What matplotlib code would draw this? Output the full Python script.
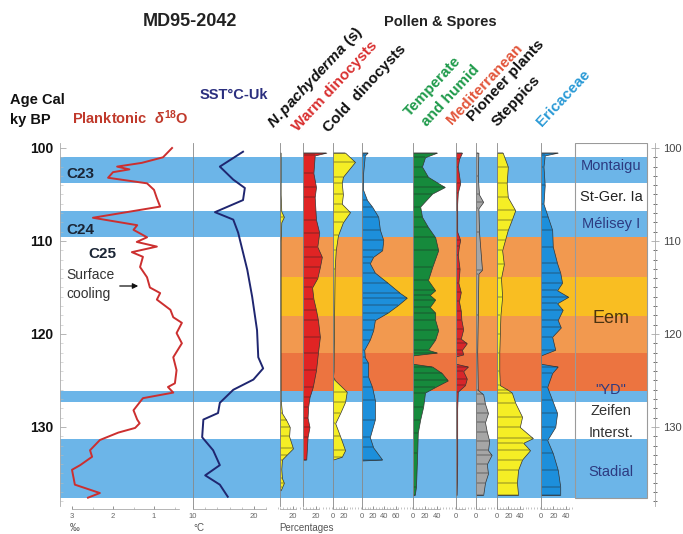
import matplotlib
matplotlib.use("Agg")
import matplotlib.pyplot as plt
from matplotlib.patches import Rectangle, FancyArrowPatch
from matplotlib.ticker import MultipleLocator, FixedLocator

plt.rcParams['font.family'] = ['Liberation Sans', 'DejaVu Sans']
plt.rcParams['mathtext.fontset'] = 'custom'
plt.rcParams['mathtext.rm'] = 'Liberation Sans:bold'
plt.rcParams['mathtext.it'] = 'Liberation Sans:italic:bold'
plt.rcParams['mathtext.bf'] = 'Liberation Sans:bold'

# ---- data (ages in ky BP) ----
d18o_age = [100, 101, 101.6, 102.0, 102.3, 102.6, 103.2, 103.8, 104.5, 105.4, 106.3, 107.5, 108.3, 108.8,
            109.6, 110.1, 110.6, 111.2, 111.7, 112.8, 113.9, 115.0, 115.6, 116.3, 117.4, 118.2, 118.8,
            119.9, 121.0, 122.5, 123.9, 125.3, 125.7, 126.3, 126.9, 128.2, 129.2, 129.6, 130.1, 130.6,
            131.4, 132.5, 133.2, 134.1, 134.6, 136.2, 137.1, 137.6]
d18o_val = [0.56, 0.78, 1.3, 1.9, 1.6, 2.0, 2.12, 1.17, 1.0, 0.93, 0.85, 2.49, 1.41, 1.5,
            1.17, 1.42, 0.93, 1.54, 1.27, 1.34, 1.17, 1.1, 0.85, 0.93, 0.6, 0.53, 0.32,
            0.45, 0.32, 0.53, 0.45, 0.49, 0.66, 0.53, 1.27, 1.5, 1.41, 1.35, 1.46, 1.87,
            2.32, 2.56, 2.51, 2.8, 3.0, 2.93, 2.32, 2.61]

sst_age = [100.4, 102.0, 103.4, 104.3, 105.6, 106.9, 107.7, 109.1, 113.1, 116.0, 119.6, 122.5, 123.7,
           124.9, 126.0, 127.4, 128.5, 129.2, 131.1, 132.5, 134.1, 135.2, 136.2, 137.5]
sst_val = [18.2, 14.4, 16.6, 18.5, 18.2, 13.6, 16.6, 17.4, 18.9, 19.7, 20.5, 20.7, 21.5,
           19.9, 16.6, 14.4, 14.1, 11.7, 11.5, 13.3, 14.4, 12.0, 14.4, 15.7]

npach_age = [100.5, 105, 106.8, 107.4, 108, 110, 120, 127, 128.5, 129.3, 130, 131, 132.3, 133, 133.5,
             134.5, 135.5, 136, 136.5, 136.8]
npach_val = [1, 1, 2, 6, 2, 1, 1, 1, 3, 10, 15, 14, 20, 10, 3, 2, 3, 6, 3, 1]

warm_age = [100.5, 100.8, 102.7, 104.2, 105.3, 107.7, 109.1, 110.6, 111.7, 112.8, 114, 115, 116.2, 117.4,
            118.5, 120.3, 122, 123.9, 125.7, 126.8, 127.8, 129, 130, 131.1, 133.5]
warm_val = [36, 18, 16, 20, 18, 20, 25, 22, 29, 26, 22, 14, 16, 20,
            23, 26, 23, 20, 15, 10, 8, 7, 10, 7, 5]

cold_age = [100.5, 101.5, 103.1, 103.8, 105, 106, 106.9, 108, 109.4, 111, 113, 118, 124, 124.6, 125,
            126.2, 127.3, 128.5, 129.6, 131, 132.5, 133.2, 133.5]
cold_val = [22, 40, 18, 16, 18, 16, 31, 18, 9, 5, 3, 2, 1, 0, 4,
            25, 22, 13, 4, 13, 22, 16, 0]

blue_age = [100.5, 100.8, 102.7, 104.5, 105.6, 106.3, 107.4, 108.8, 109.9, 111, 111.7, 112.4, 113.4,
            114.5, 115.6, 116.1, 116.9, 117.7, 118.5, 119.6, 120.6, 121.7, 122.5, 123.1, 124.6, 125.7,
            127.1, 129.2, 131.1, 132.2, 133.5, 133.6]
blue_val = [10, 5, 2, 2, 9, 18, 29, 32, 38, 36, 20, 14, 23,
            46, 68, 80, 64, 46, 23, 20, 14, 4, 5, 11, 11, 18,
            23, 23, 14, 20, 36, 0]

temp_age = [100.5, 101, 102, 103.1, 104.2, 104.9, 106.3, 107.4, 108.5, 109.6, 111, 112.8, 114.2, 115.3,
            115.8, 116.3, 117.1, 117.7, 118.5, 119.6, 120.6, 121.7, 122.0, 122.3, 123.2, 123.5, 124.2,
            125, 125.7, 126.3, 127.8, 129.2, 130.6, 132.8, 136.4, 137.3]
temp_val = [40, 20, 15, 25, 53, 32, 12, 15, 25, 37, 42, 32, 25, 37,
            28, 37, 28, 37, 37, 42, 37, 25, 40, 0, 0, 32, 48,
            58, 37, 20, 17, 12, 8, 7, 5, 3]

med_age = [100.5, 101.2, 102, 103.8, 104.8, 106, 109, 109.9, 110.5, 111.5, 113, 114.5, 115.5, 116.5,
           117.5, 118.5, 119.5, 120.5, 121, 121.7, 122.2, 122.4, 123.2, 123.5, 124, 124.8, 125.5,
           126.2, 128, 131, 134, 137.3]
med_val = [10, 5, 3, 7, 3, 2, 2, 7, 5, 3, 6, 4, 8, 5,
           8, 9, 12, 8, 18, 10, 12, 0, 0, 20, 12, 18, 15,
           3, 2, 2, 2, 1]

pion_age = [100.5, 103, 105, 105.8, 106.5, 109, 113.1, 113.5, 118, 122, 126, 126.5, 127.5, 128.5,
            129.5, 130.5, 131.5, 132.5, 133, 134, 135, 136, 137.3]
pion_val = [4, 3, 5, 12, 4, 5, 10, 4, 3, 2, 3, 12, 15, 20,
            15, 18, 22, 20, 26, 18, 20, 15, 12]

step_age = [100.5, 102, 103.8, 105.3, 106.7, 107.7, 108.8, 109.9, 111, 112.5, 114, 116, 118, 120, 122,
            124, 125.5, 126, 126.3, 127.4, 128.9, 130, 131.2, 131.7, 132.5, 133.5, 134.6, 136, 137.3]
step_val = [10, 19, 17, 19, 32, 26, 19, 14, 9, 12, 7, 9, 6, 5, 4,
            4, 5, 19, 26, 32, 44, 40, 63, 46, 58, 44, 37, 35, 37]

eric_age = [100.5, 100.8, 102, 104, 106, 107.4, 108.8, 110.6, 112.4, 113.4, 114.5, 115.3, 116, 116.7,
            117.4, 118.5, 119.3, 120.3, 121.7, 122.3, 123.2, 123.5, 124.2, 125.7, 127.1, 128.5, 130,
            131.4, 132.8, 134.6, 136.4, 137.3]
eric_val = [27, 6, 4, 6, 4, 11, 18, 19, 26, 31, 34, 26, 44, 26,
            35, 27, 32, 18, 23, 0, 0, 27, 18, 10, 18, 26, 23,
            10, 19, 27, 31, 31]

band_start = [101.0, 106.8, 109.6, 113.9, 118.1, 122.0, 126.1, 131.3]
band_end = [103.8, 109.6, 113.9, 118.1, 122.0, 126.1, 127.3, 137.6]
band_kind = ['cold', 'cold', 'eem1', 'eem2', 'eem1', 'eem3', 'cold', 'cold']

zone_names = ['Montaigu', 'St-Ger. Ia', 'Mélisey I', 'Eem', '"YD"', 'Zeifen', 'Interst.', 'Stadial']
zone_ages = [101.9, 105.3, 108.2, 118.3, 126.0, 128.3, 130.6, 134.8]
zone_colors = ['#2d3a80', '#222222', '#2d3a80', '#4a3310', '#2d3a80', '#333333', '#333333', '#2d3a80']
age_ticks = [100, 110, 120, 130]

# ---- layout helpers (pixels) ----
W, H = 683, 534
AGE_TOP, AGE_BOT = 99.5, 138.5


def ypx(age):
    return 148 + (age - 100) * 9.3


def fx(x):
    return x / W


def fy(y):
    return 1 - y / H


def col_axes(left, right):
    yt, yb = ypx(AGE_TOP), ypx(AGE_BOT)
    ax = fig.add_axes([fx(left), fy(yb), (right - left) / W, (yb - yt) / H])
    ax.set_facecolor('none')
    ax.set_ylim(AGE_BOT, AGE_TOP)
    for s in ['top', 'right']:
        ax.spines[s].set_visible(False)
    ax.spines['left'].set_color('#888888')
    ax.spines['left'].set_linewidth(0.6)
    ax.spines['bottom'].set_color('#999999')
    ax.spines['bottom'].set_linewidth(0.5)
    ax.spines['bottom'].set_position(('outward', 2))
    ax.tick_params(axis='x', labelsize=5.5, colors='#666666', direction='in', length=2.5, width=0.5, pad=3)
    ax.tick_params(axis='x', which='minor', direction='in', length=1.5, width=0.4, colors='#999999')
    return ax


fig = plt.figure(figsize=(W / 100, H / 100), dpi=100)

# background bands
bg = fig.add_axes([0, fy(ypx(AGE_BOT)), 1, (ypx(AGE_BOT) - ypx(AGE_TOP)) / H])
bg.set_xlim(0, W)
bg.set_ylim(AGE_BOT, AGE_TOP)
bg.axis('off')
band_col = {'cold': '#6cb5e8', 'eem1': '#f2994f', 'eem2': '#f9be22', 'eem3': '#ec7440'}
for a, b, k in zip(band_start, band_end, band_kind):
    x0 = 60 if k == 'cold' else 280
    bg.axhspan(a, b, xmin=x0 / W, xmax=647 / W, color=band_col[k], lw=0)
bg.add_patch(Rectangle((575, AGE_TOP), 72, 137.6 - AGE_TOP, fill=False, ec='#9a9a9a', lw=0.8))
for name, age, c in zip(zone_names, zone_ages, zone_colors):
    bg.text(611, age, name, ha='center', va='center', fontsize=13 if name == 'Eem' else 10.5, color=c)

# d18O column
ax = col_axes(60, 193)
ax.set_xlim(3 + 12 / 41, 3 - 121 / 41)
ax.plot(d18o_val, d18o_age, color='#cc2f2f', lw=1.4)
ax.spines['left'].set_color('#aaaaaa')
ax.yaxis.set_major_locator(FixedLocator(age_ticks))
ax.yaxis.set_minor_locator(MultipleLocator(1))
ax.tick_params(axis='y', labelsize=10, direction='in', length=4, width=0.6, colors='#aaaaaa', labelcolor='#111111', pad=5)
ax.tick_params(axis='y', which='minor', direction='in', length=2, width=0.4, colors='#bbbbbb')
for lab in ax.get_yticklabels():
    lab.set_fontweight('bold')
ax.spines['bottom'].set_bounds(3, 0.4)
ax.set_xticks([3, 2, 1])
ax.xaxis.set_minor_locator(MultipleLocator(0.5))

# SST column
ax = col_axes(193, 280)
ax.set_xlim(10, 10 + 87 / 6.1)
ax.plot(sst_val, sst_age, color='#1f2670', lw=1.4)
ax.set_yticks([])
ax.spines['bottom'].set_bounds(10, 22)
ax.set_xticks([10, 20])
ax.xaxis.set_minor_locator(MultipleLocator(2))

# percentage columns: (left, right, px per %, colour, ages, values, ticks)
columns = [
    (280, 303, 0.65, '#f5ee25', npach_age, npach_val, [20]),
    (303, 333, 0.65, '#e02424', warm_age, warm_val, [20]),
    (333, 362, 0.55, '#f5ee25', cold_age, cold_val, [0, 20]),
    (362, 413, 0.56, '#1d8fdb', blue_age, blue_val, [0, 20, 40, 60]),
    (413, 456, 0.60, '#168a3c', temp_age, temp_val, [0, 20, 40]),
    (456, 476, 0.60, '#d8262a', med_age, med_val, [0]),
    (476, 497, 0.60, '#a6a6a6', pion_age, pion_val, [0]),
    (497, 541, 0.57, '#f5ee25', step_age, step_val, [0, 20, 40]),
    (541, 575, 0.62, '#1d8fdb', eric_age, eric_val, [0, 20, 40]),
]
for left, right, sc, c, ages, vals, ticks in columns:
    ax = col_axes(left, right)
    ax.set_xlim(0, (right - left) / sc)
    ax.fill_betweenx(ages, 0, vals, facecolor=c, edgecolor='#333333', lw=0.5)
    ax.hlines(ages, 0, vals, color='#222222', lw=0.35)
    ax.set_yticks([])
    ax.set_xticks(ticks)
    ax.xaxis.set_minor_locator(MultipleLocator(5))
    top = max(ticks) if max(ticks) > 0 else 10
    ax.spines['bottom'].set_bounds(0, top + 5)

# right age axis
ax = fig.add_axes([fx(650), fy(ypx(AGE_BOT)), 5 / W, (ypx(AGE_BOT) - ypx(AGE_TOP)) / H])
ax.set_facecolor('none')
ax.set_ylim(AGE_BOT, AGE_TOP)
for s in ['top', 'left', 'bottom']:
    ax.spines[s].set_visible(False)
ax.spines['right'].set_color('#aaaaaa')
ax.spines['right'].set_linewidth(0.6)
ax.set_xticks([])
ax.yaxis.tick_right()
ax.yaxis.set_major_locator(FixedLocator(age_ticks))
ax.yaxis.set_minor_locator(MultipleLocator(1))
ax.tick_params(axis='y', labelsize=8, direction='inout', length=6, width=0.5, colors='#999999', labelcolor='#444444', pad=3)
ax.tick_params(axis='y', which='minor', direction='inout', length=3, width=0.4)


# texts
def t(x, y, s, **kw):
    fig.text(fx(x), fy(y), s, **kw)


t(190, 22, 'MD95-2042', ha='center', va='center', fontsize=13, fontweight='bold', color='#222222')
t(440, 22, 'Pollen & Spores', ha='center', va='center', fontsize=10.5, fontweight='bold', color='#222222')
t(10, 104, 'Age Cal', fontsize=10.5, fontweight='bold', color='#111111')
t(10, 124, 'ky BP', fontsize=10.5, fontweight='bold', color='#111111')
t(72, 124, r'Planktonic  $\delta^{18}$O', fontsize=10.5, fontweight='bold', color='#c0392b')
t(200, 99, 'SST°C-Uk', fontsize=10.5, fontweight='bold', color='#2b2f7f')

rot = dict(rotation=47, rotation_mode='anchor', ha='left', va='baseline', fontsize=11, fontweight='bold')
t(273, 129, r'$\mathit{N.pachyderma}$ (s)', color='#111111', **rot)
t(298, 132, 'Warm dinocysts', color='#d93030', **rot)
t(329, 133, 'Cold  dinocysts', color='#111111', **rot)
t(410, 117, 'Temperate', color='#1e9a4a', **rot)
t(427, 127, 'and humid', color='#1e9a4a', **rot)
t(452, 125, 'Mediterranean', color='#e2553a', **rot)
t(473, 122, 'Pioneer plants', color='#111111', **rot)
t(497, 127, 'Steppics', color='#111111', **rot)
t(542, 127, 'Ericaceae', color='#2a9ad6', **rot)

t(66, 178, 'C23', fontsize=11, fontweight='bold', color='#1a2535')
t(66, 234, 'C24', fontsize=11, fontweight='bold', color='#1a2535')
t(88, 258, 'C25', fontsize=11, fontweight='bold', color='#1a2535')
t(66, 279, 'Surface', fontsize=10, color='#333333')
t(66, 298, 'cooling', fontsize=10, color='#333333')
fig.add_artist(FancyArrowPatch((fx(117), fy(286)), (fx(141), fy(286)), transform=fig.transFigure,
                               arrowstyle='-|>', mutation_scale=8, lw=0.9, color='#111111'))

t(70, 533, '‰', fontsize=7, color='#555555', va='bottom')
t(193, 533, '°C', fontsize=7, color='#555555', va='bottom')
t(279, 533, 'Percentages', fontsize=7, color='#555555', va='bottom')

fig.savefig('out.png', dpi=100)
